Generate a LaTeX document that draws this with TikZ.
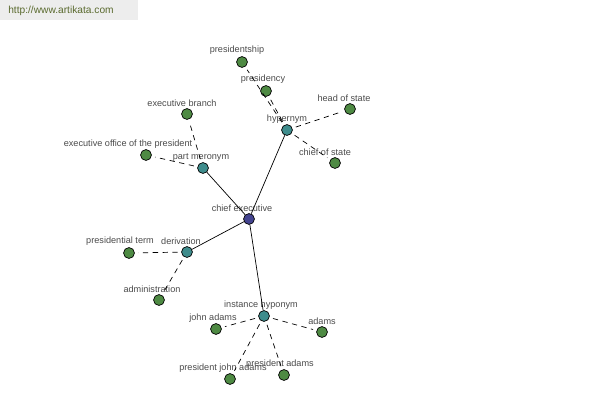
\documentclass[tikz,border=0pt]{standalone}
\usepackage{fontspec}
\setmainfont{Liberation Sans}
\usepackage{tikz}
\definecolor{leafgreen}{HTML}{4E8A43}
\definecolor{relteal}{HTML}{3E8C8C}
\definecolor{rootblue}{HTML}{43438F}
\definecolor{lbltext}{HTML}{4A4A4A}
\definecolor{urltext}{HTML}{5A6A2E}
\tikzset{
  vert/.style={circle,draw=black,line width=0.4pt,minimum size=6.2pt,inner sep=0pt},
  leaf/.style={vert,fill=leafgreen},
  rel/.style={vert,fill=relteal},
  root/.style={vert,fill=rootblue},
  lbl/.style={text=lbltext,font=\fontsize{5.2}{6}\selectfont,inner sep=0pt},
  solidedge/.style={line width=0.4pt},
  dashedge/.style={line width=0.4pt,dash pattern=on 3pt off 2.6pt,shorten <=2pt,shorten >=2pt}
}
\def\wnode(#1)[#2](#3)(#4)#5{\node[#2] (#1) at (#3) {}; \node[lbl] (#1-l) at (#4) {#5};}

\begin{document}
\begin{tikzpicture}[x=0.02cm,y=-0.02cm]
			%%%%% START %%%%%
			\useasboundingbox (0,0) rectangle (600,400);
			\fill[black!7] (0,0) rectangle (138,20);
			\node[text=urltext,font=\fontsize{5.8}{7}\selectfont,inner sep=0pt] (url) at (61,11) {http://www.artikata.com};
			
			\wnode(ce)[root](249,219)(242,208){chief executive}
			\wnode(hyper)[rel](287,130)(287,119){hypernym}
			\wnode(mero)[rel](203,168)(201,157){part meronym}
			\wnode(deriv)[rel](187,252)(181,241){derivation}
			\wnode(hypo)[rel](264,316)(261,305){instance hyponym}
			
			\wnode(pship)[leaf](242,62)(237,50){presidentship}
			\wnode(pcy)[leaf](266,91)(263,79){presidency}
			\wnode(hos)[leaf](350,109)(344,98){head of state}
			\wnode(cos)[leaf](335,163)(325,152){chief of state}
			\wnode(eb)[leaf](187,114)(182,103){executive branch}
			\wnode(eop)[leaf](146,155)(128,144){executive office of the president}
			\wnode(pt)[leaf](129,253)(120,241){presidential term}
			\wnode(adm)[leaf](159,300)(152,289){administration}
			\wnode(ja)[leaf](216,329)(213,318){john adams}
			\wnode(ad)[leaf](322,332)(322,321){adams}
			\wnode(pja)[leaf](230,379)(223,368){president john adams}
			\wnode(pa)[leaf](284,375)(280,364){president adams}
			
			\draw[solidedge] (ce) -- (hyper);
			\draw[solidedge] (ce) -- (mero);
			\draw[solidedge] (ce) -- (deriv);
			\draw[solidedge] (ce) -- (hypo);
			
			\foreach \t in {pship,pcy,hos,cos}
				\draw[dashedge] (hyper) -- (\t);
			\foreach \t in {eb,eop}
				\draw[dashedge] (mero) -- (\t);
			\foreach \t in {pt,adm}
				\draw[dashedge] (deriv) -- (\t);
			\foreach \t in {ja,ad,pja,pa}
				\draw[dashedge] (hypo) -- (\t);
			%%%%% END %%%%%
		\end{tikzpicture}
\end{document}
